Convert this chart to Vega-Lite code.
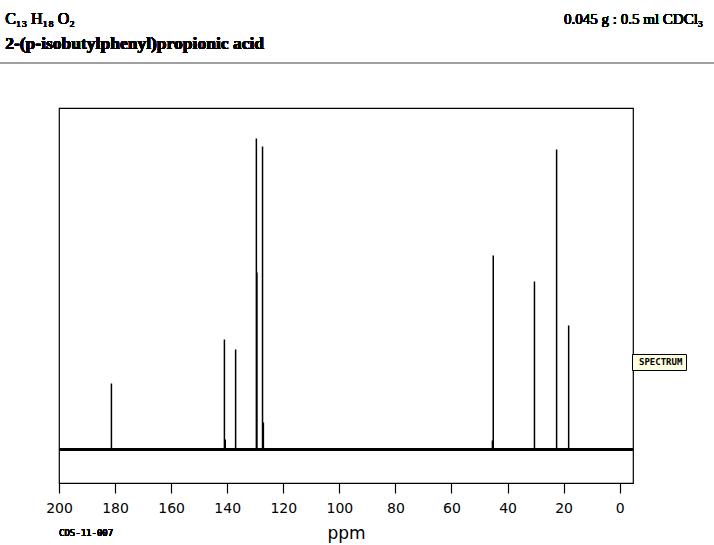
{
  "$schema": "https://vega.github.io/schema/vega-lite/v6.json",
  "width": 574,
  "height": 375,
  "autosize": {"type": "none"},
  "padding": {"left": 59, "top": 108, "right": 81, "bottom": 62},
  "background": "white",
  "config": {"view": {"stroke": "black", "strokeWidth": 1.2}},
  "data": {
    "values": [
      {"ppm": 181.3, "intensity": 66},
      {"ppm": 141.0, "intensity": 110},
      {"ppm": 140.7, "intensity": 10},
      {"ppm": 137.0, "intensity": 100},
      {"ppm": 129.6, "intensity": 311},
      {"ppm": 129.4, "intensity": 177},
      {"ppm": 127.4, "intensity": 303},
      {"ppm": 127.1, "intensity": 27},
      {"ppm": 45.1, "intensity": 194},
      {"ppm": 45.4, "intensity": 9},
      {"ppm": 30.4, "intensity": 168},
      {"ppm": 22.5, "intensity": 300},
      {"ppm": 18.2, "intensity": 124}
    ]
  },
  "layer": [
    {
      "mark": {"type": "rule", "strokeWidth": 1.5},
      "encoding": {
        "x": {
          "field": "ppm",
          "type": "quantitative",
          "scale": {"domain": [-4.75, 200], "reverse": true, "nice": false, "zero": false},
          "axis": {
            "values": [200, 190, 180, 170, 160, 150, 140, 130, 120, 110, 100, 90, 80, 70, 60, 50, 40, 30, 20, 10, 0],
            "labelExpr": "datum.value % 20 === 0 ? datum.label : ''",
            "tickSize": {"condition": {"test": "datum.value % 20 === 0", "value": 10}, "value": 6},
            "tickColor": "black",
            "tickWidth": 1.2,
            "domainColor": "black",
            "domainWidth": 1.2,
            "grid": false,
            "labelFont": "DejaVu Sans",
            "labelFontSize": 14,
            "labelColor": "black",
            "labelPadding": 8,
            "labelFlush": false,
            "labelOverlap": false,
            "title": "ppm",
            "titleFont": "DejaVu Sans",
            "titleFontSize": 17,
            "titleFontWeight": "normal",
            "titleColor": "black",
            "titlePadding": 10
          }
        },
        "y": {
          "field": "intensity",
          "type": "quantitative",
          "scale": {"domain": [-33.5, 341.5], "nice": false, "zero": false},
          "axis": null
        },
        "y2": {"datum": 0},
        "color": {
          "datum": "SPECTRUM",
          "scale": {"range": ["black"]},
          "legend": {
            "orient": "none",
            "legendX": 573,
            "legendY": 246,
            "title": null,
            "fillColor": "#ffffe1",
            "strokeColor": "black",
            "padding": 3,
            "symbolSize": 0,
            "symbolOpacity": 0,
            "symbolStrokeWidth": 0,
            "symbolType": "square",
            "labelOffset": -5,
            "labelFont": "DejaVu Sans Mono",
            "labelFontSize": 9,
            "labelFontWeight": "bold",
            "labelColor": "black"
          }
        }
      }
    },
    {
      "mark": {"type": "rule", "color": "black", "strokeWidth": 1.5},
      "encoding": {"y": {"datum": 0}}
    },
    {
      "mark": {"type": "rule", "color": "#a0a0a0", "strokeWidth": 1.5, "clip": false},
      "encoding": {"x": {"datum": 221.05}, "x2": {"datum": -33.7}, "y": {"datum": 386.7}}
    },
    {
      "mark": {"type": "text", "text": "C₁₃ H₁₈ O₂", "align": "left", "baseline": "alphabetic", "font": "Liberation Serif", "fontSize": 16, "fontWeight": "normal", "color": "black", "clip": false},
      "encoding": {"x": {"datum": 219.2}, "y": {"datum": 426}}
    },
    {
      "mark": {"type": "text", "text": "2-(p-isobutylphenyl)propionic acid", "align": "left", "baseline": "alphabetic", "font": "Liberation Serif", "fontSize": 17.5, "fontWeight": "bold", "color": "black", "clip": false},
      "encoding": {"x": {"datum": 219.2}, "y": {"datum": 401}}
    },
    {
      "mark": {"type": "text", "text": "0.045 g : 0.5 ml CDCl₃", "align": "right", "baseline": "alphabetic", "font": "Liberation Serif", "fontSize": 15, "fontWeight": "normal", "color": "black", "clip": false},
      "encoding": {"x": {"datum": -29.75}, "y": {"datum": 426}}
    },
    {
      "mark": {"type": "text", "text": "CDS-11-007", "align": "left", "baseline": "middle", "font": "DejaVu Sans Mono", "fontSize": 9, "fontWeight": "normal", "color": "black", "clip": false},
      "encoding": {"x": {"datum": 200}, "y": {"datum": -83}}
    }
  ]
}
